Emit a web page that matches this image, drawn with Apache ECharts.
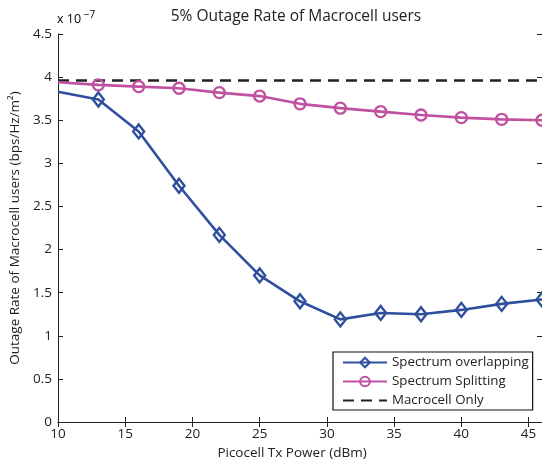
<!DOCTYPE html>
<html>
<head>
<meta charset="utf-8">
<script src="https://cdn.jsdelivr.net/npm/echarts@6/dist/echarts.min.js"></script>
<style>
html,body{margin:0;padding:0;background:#fff;}
#chart{width:542px;height:466px;}
</style>
</head>
<body>
<div id="chart"></div>
<script>
const txPower = [10, 13, 16, 19, 22, 25, 28, 31, 34, 37, 40, 43, 46];
const overlapping = [3.83, 3.74, 3.37, 2.74, 2.17, 1.70, 1.40, 1.19, 1.265, 1.25, 1.30, 1.37, 1.42];
const splitting = [3.94, 3.91, 3.89, 3.87, 3.82, 3.78, 3.69, 3.64, 3.60, 3.56, 3.53, 3.51, 3.50];
const macroOnly = [3.96, 3.96];
const macroX = [10, 46];
const seriesNames = ['Spectrum overlapping', 'Spectrum Splitting', 'Macrocell Only'];

const FONT = '"Open Sans", "Noto Sans", sans-serif';
const BLUE = '#2f4f9e';
const PINK = '#c050a0';
const BLACK = '#222222';

function pairs(xs, ys, hideFirst) {
  return xs.map((x, i) => {
    const d = { value: [x, ys[i]] };
    if (hideFirst && i === 0) d.symbol = 'none';
    return d;
  });
}

const chart = echarts.init(document.getElementById('chart'), null, { renderer: 'canvas' });
const axisLine = { show: true, lineStyle: { color: '#222', width: 1 } };
const tickStyle = { show: true, inside: true, length: 5, lineStyle: { color: '#222', width: 1 } };
chart.setOption({
  animation: false,
  backgroundColor: '#fff',
  title: {
    text: '5% Outage Rate of Macrocell users',
    left: 291, top: 4, textAlign: 'center',
    textStyle: { fontFamily: FONT, fontSize: 15.5, fontWeight: 'normal', color: '#222' }
  },
  graphic: [{
    type: 'text', left: 57, top: 10,
    style: {
      text: '{a|x 10}{b| −7}',
      rich: {
        a: { fontFamily: FONT, fontSize: 12.5, color: '#222', verticalAlign: 'bottom', lineHeight: 16 },
        b: { fontFamily: FONT, fontSize: 10, color: '#222', verticalAlign: 'top', lineHeight: 16, padding: [0, 0, 8, 0] }
      }
    }
  }],
  legend: {
    orient: 'vertical',
    left: 333, top: 352,
    width: 199,
    backgroundColor: '#fff',
    borderColor: '#111', borderWidth: 1.2,
    padding: [4, 4, 3, 9],
    itemWidth: 44, itemHeight: 12, itemGap: 6,
    textStyle: { fontFamily: FONT, fontSize: 13.3, color: '#222' },
    data: [
      { name: seriesNames[0] },
      { name: seriesNames[1] },
      { name: seriesNames[2], itemStyle: { color: 'rgba(0,0,0,0)', borderWidth: 0, opacity: 0 } }
    ]
  },
  grid: { left: 58, right: -4, top: 34, bottom: 44 },
  xAxis: [{
    type: 'value', min: 10, max: 46, interval: 5,
    name: 'Picocell Tx Power (dBm)', nameLocation: 'middle', nameGap: 22,
    nameTextStyle: { fontFamily: FONT, fontSize: 13.5, color: '#222', padding: [0, 16, 0, 0] },
    axisLine: axisLine, axisTick: tickStyle,
    axisLabel: { fontFamily: FONT, fontSize: 13.5, color: '#222', margin: 5, showMaxLabel: false },
    splitLine: { show: false }
  }, {
    type: 'value', min: 10, max: 46, interval: 5, position: 'top',
    axisLine: axisLine, axisTick: tickStyle, axisLabel: { show: false }, splitLine: { show: false }
  }],
  yAxis: [{
    type: 'value', min: 0, max: 4.5, interval: 0.5,
    name: 'Outage Rate of Macrocell users (bps/Hz/m²)', nameLocation: 'middle', nameGap: 31, nameRotate: 90,
    nameTextStyle: { fontFamily: FONT, fontSize: 13.5, color: '#222' },
    axisLine: axisLine, axisTick: tickStyle,
    axisLabel: { fontFamily: FONT, fontSize: 13.5, color: '#222', margin: 6 },
    splitLine: { show: false }
  }, {
    type: 'value', min: 0, max: 4.5, interval: 0.5, position: 'right',
    axisLine: axisLine, axisTick: tickStyle, axisLabel: { show: false }, splitLine: { show: false }
  }],
  series: [{
    name: seriesNames[0], type: 'line',
    data: pairs(txPower, overlapping, true),
    symbol: 'diamond', symbolSize: [11, 14], showAllSymbol: true,
    color: BLUE,
    lineStyle: { color: BLUE, width: 2.6 },
    itemStyle: { color: 'rgba(255,255,255,0)', borderColor: BLUE, borderWidth: 2.4 },
    z: 3
  }, {
    name: seriesNames[1], type: 'line',
    data: pairs(txPower, splitting, true),
    symbol: 'circle', symbolSize: 11, showAllSymbol: true,
    color: PINK,
    lineStyle: { color: PINK, width: 2.6 },
    itemStyle: { color: 'rgba(255,255,255,0)', borderColor: PINK, borderWidth: 2.4 },
    z: 2
  }, {
    name: seriesNames[2], type: 'line',
    data: pairs(macroX, macroOnly, false),
    symbol: 'none',
    color: BLACK,
    lineStyle: { color: BLACK, width: 2.6, type: [11, 7] },
    z: 1
  }]
});
</script>
</body>
</html>
